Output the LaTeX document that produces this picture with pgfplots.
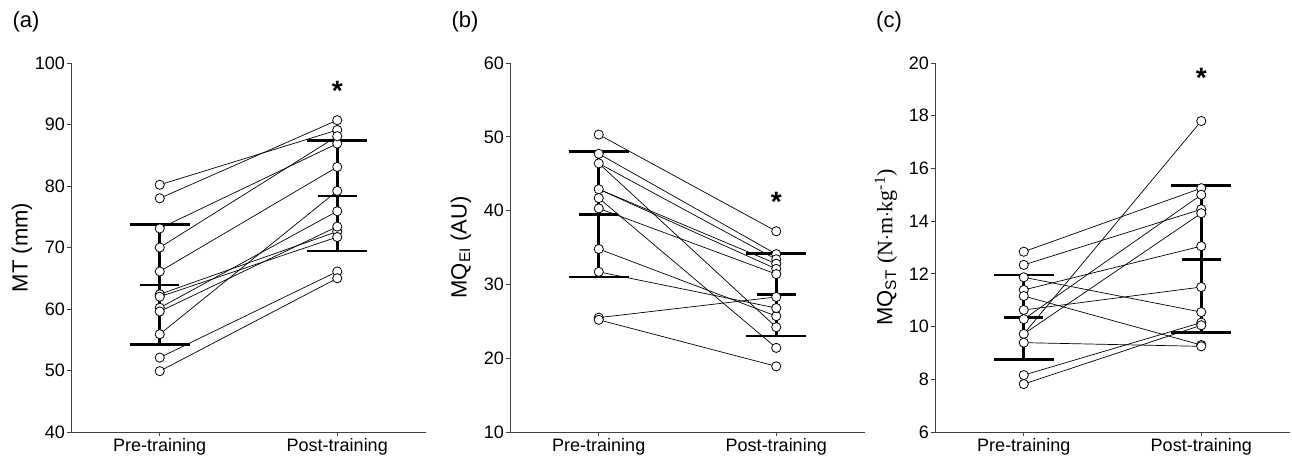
\documentclass[border=0pt]{standalone}
\usepackage{pgfplots}
\pgfplotsset{compat=1.18}
\usepackage{fontspec}
\setmainfont{Liberation Sans}
\newfontfamily\seriffont{Liberation Serif}

\pgfplotsset{
  panel/.style={
    scale only axis, width=355pt, height=369pt,
    xmin=-0.5, xmax=1.5,
    axis lines=left, axis line style={-, black!75, line width=0.8pt},
    xtick={0,1}, xticklabels={Pre-training, Post-training},
    tick style={black!75, line width=0.8pt},
    tick align=outside, major tick length=4pt,
    ticklabel style={font=\fontsize{18}{21}\selectfont},
    yticklabel style={xshift=1.5pt},
    xticklabel style={yshift=1pt},
    /pgf/number format/assume math mode=true,
    every axis y label/.style={at={(axis description cs:0,0.5)}, xshift=-49pt, rotate=90, anchor=center, font=\fontsize{22}{26}\selectfont},
    clip=false,
    anchor=south west,
  },
  subj/.style={black, line width=0.7pt, forget plot},
  ebar/.style={black, line width=2.6pt, forget plot},
  pts/.style={only marks, mark=*, mark size=4.6pt, mark options={fill=white, draw=black, line width=0.8pt}, forget plot},
}

\begin{document}
\begin{tikzpicture}
\path[use as bounding box] (0,0) rectangle (1292pt,467pt);

% ---------------- (a)
\begin{axis}[panel, at={(71pt,35pt)}, ymin=40, ymax=100, ytick={40,50,...,100}, ylabel={MT (mm)}]
\addplot[subj] coordinates {(0,80.2) (1,89.1)};
\addplot[subj] coordinates {(0,78.0) (1,90.7)};
\addplot[subj] coordinates {(0,73.1) (1,86.9)};
\addplot[subj] coordinates {(0,70.0) (1,88.1)};
\addplot[subj] coordinates {(0,66.1) (1,83.1)};
\addplot[subj] coordinates {(0,62.4) (1,72.6)};
\addplot[subj] coordinates {(0,62.0) (1,71.7)};
\addplot[subj] coordinates {(0,60.2) (1,75.9)};
\addplot[subj] coordinates {(0,59.6) (1,73.4)};
\addplot[subj] coordinates {(0,55.9) (1,79.2)};
\addplot[subj] coordinates {(0,52.1) (1,66.1)};
\addplot[subj] coordinates {(0,49.9) (1,65.0)};
% error bars
\addplot[ebar] coordinates {(0,54.2) (0,73.7)};
\addplot[ebar] coordinates {(-0.17,73.7) (0.17,73.7)};
\addplot[ebar] coordinates {(-0.17,54.2) (0.17,54.2)};
\addplot[ebar] coordinates {(-0.11,63.9) (0.11,63.9)};
\addplot[ebar] coordinates {(1,69.4) (1,87.4)};
\addplot[ebar] coordinates {(0.83,87.4) (1.17,87.4)};
\addplot[ebar] coordinates {(0.83,69.4) (1.17,69.4)};
\addplot[ebar] coordinates {(0.89,78.4) (1.11,78.4)};
\addplot[pts] coordinates {(0,80.2)(0,78.0)(0,73.1)(0,70.0)(0,66.1)(0,62.4)(0,62.0)(0,60.2)(0,59.6)(0,55.9)(0,52.1)(0,49.9)
 (1,89.1)(1,90.7)(1,86.9)(1,88.1)(1,83.1)(1,72.6)(1,71.7)(1,75.9)(1,73.4)(1,79.2)(1,66.1)(1,65.0)};
\node[font=\fontsize{28}{28}\selectfont\bfseries] at (axis cs:1,95.4) {*};
\end{axis}

% ---------------- (b)
\begin{axis}[panel, at={(510pt,35pt)}, ymin=10, ymax=60, ytick={10,20,...,60}, ylabel={MQ\textsubscript{EI} (AU)}]
\addplot[subj] coordinates {(0,50.3) (1,37.2)};
\addplot[subj] coordinates {(0,47.7) (1,34.1)};
\addplot[subj] coordinates {(0,46.4) (1,33.4)};
\addplot[subj] coordinates {(0,46.4) (1,24.2)};
\addplot[subj] coordinates {(0,42.9) (1,32.8)};
\addplot[subj] coordinates {(0,42.9) (1,32.1)};
\addplot[subj] coordinates {(0,41.7) (1,21.4)};
\addplot[subj] coordinates {(0,40.3) (1,31.4)};
\addplot[subj] coordinates {(0,34.8) (1,25.7)};
\addplot[subj] coordinates {(0,31.7) (1,26.8)};
\addplot[subj] coordinates {(0,25.5) (1,28.3)};
\addplot[subj] coordinates {(0,25.2) (1,18.9)};
\addplot[ebar] coordinates {(0,31.0) (0,48.0)};
\addplot[ebar] coordinates {(-0.17,48.0) (0.17,48.0)};
\addplot[ebar] coordinates {(-0.17,31.0) (0.17,31.0)};
\addplot[ebar] coordinates {(-0.11,39.5) (0.11,39.5)};
\addplot[ebar] coordinates {(1,23.0) (1,34.2)};
\addplot[ebar] coordinates {(0.83,34.2) (1.17,34.2)};
\addplot[ebar] coordinates {(0.83,23.0) (1.17,23.0)};
\addplot[ebar] coordinates {(0.89,28.6) (1.11,28.6)};
\addplot[pts] coordinates {(0,50.3)(0,47.7)(0,46.4)(0,42.9)(0,41.7)(0,40.3)(0,34.8)(0,31.7)(0,25.5)(0,25.2)
 (1,37.2)(1,34.1)(1,33.4)(1,24.2)(1,32.8)(1,32.1)(1,21.4)(1,31.4)(1,25.7)(1,26.8)(1,28.3)(1,18.9)};
\node[font=\fontsize{28}{28}\selectfont\bfseries] at (axis cs:1,41.2) {*};
\end{axis}

% ---------------- (c)
\begin{axis}[panel, at={(935pt,35pt)}, ymin=6, ymax=20, ytick={6,8,...,20}, ylabel={MQ\textsubscript{ST} {\seriffont(N$\cdot$m$\cdot$kg\textsuperscript{-1})}}]
\addplot[subj] coordinates {(0,12.84) (1,15.25)};
\addplot[subj] coordinates {(0,12.34) (1,14.45)};
\addplot[subj] coordinates {(0,11.87) (1,10.55)};
\addplot[subj] coordinates {(0,11.39) (1,13.05)};
\addplot[subj] coordinates {(0,11.16) (1,9.30)};
\addplot[subj] coordinates {(0,10.63) (1,11.50)};
\addplot[subj] coordinates {(0,10.28) (1,15.00)};
\addplot[subj] coordinates {(0,9.72) (1,17.80)};
\addplot[subj] coordinates {(0,9.72) (1,14.30)};
\addplot[subj] coordinates {(0,9.39) (1,9.25)};
\addplot[subj] coordinates {(0,8.16) (1,10.15)};
\addplot[subj] coordinates {(0,7.82) (1,10.05)};
\addplot[ebar] coordinates {(0,8.75) (0,11.95)};
\addplot[ebar] coordinates {(-0.17,11.95) (0.17,11.95)};
\addplot[ebar] coordinates {(-0.17,8.75) (0.17,8.75)};
\addplot[ebar] coordinates {(-0.11,10.35) (0.11,10.35)};
\addplot[ebar] coordinates {(1,9.78) (1,15.35)};
\addplot[ebar] coordinates {(0.83,15.35) (1.17,15.35)};
\addplot[ebar] coordinates {(0.83,9.78) (1.17,9.78)};
\addplot[ebar] coordinates {(0.89,12.55) (1.11,12.55)};
\addplot[pts] coordinates {(0,12.84)(0,12.34)(0,11.87)(0,11.39)(0,11.16)(0,10.63)(0,10.28)(0,9.72)(0,9.39)(0,8.16)(0,7.82)
 (1,15.25)(1,14.45)(1,10.55)(1,13.05)(1,9.30)(1,11.50)(1,15.00)(1,17.80)(1,14.30)(1,9.25)(1,10.15)(1,10.05)};
\node[font=\fontsize{28}{28}\selectfont\bfseries] at (axis cs:1,19.45) {*};
\end{axis}

\node[font=\fontsize{22}{26}\selectfont] at (26pt,445pt) {(a)};
\node[font=\fontsize{22}{26}\selectfont] at (465pt,445pt) {(b)};
\node[font=\fontsize{22}{26}\selectfont] at (889pt,445pt) {(c)};
\end{tikzpicture}
\end{document}
